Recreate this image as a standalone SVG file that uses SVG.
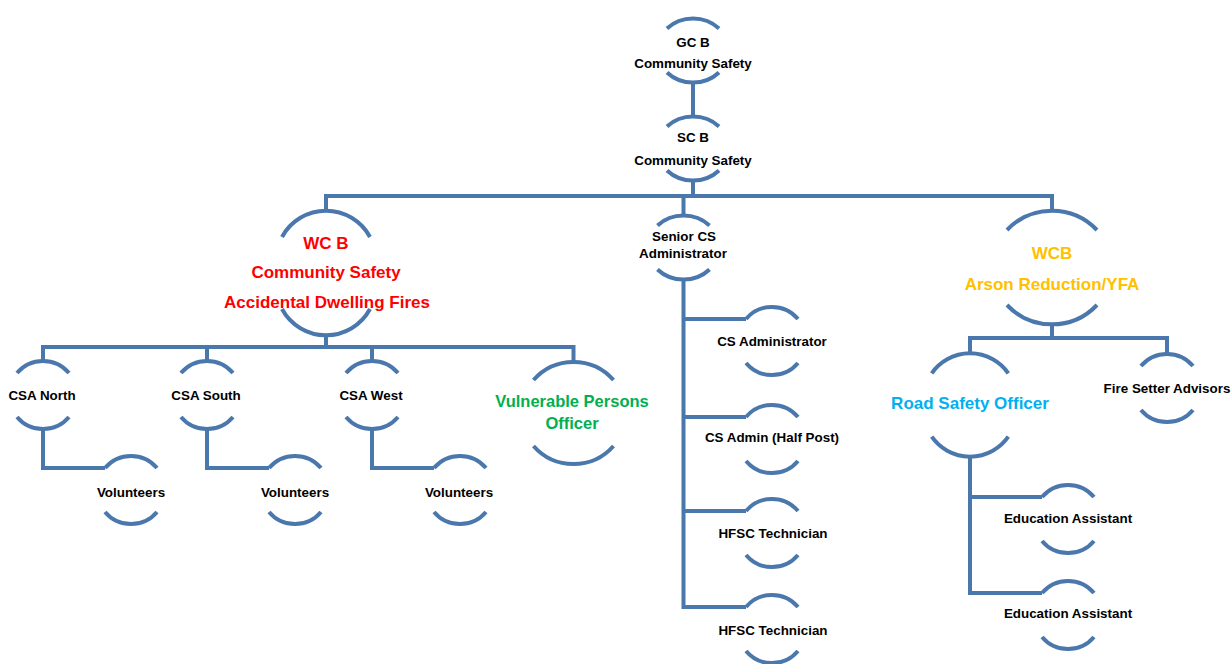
<svg xmlns="http://www.w3.org/2000/svg" width="1232" height="664" viewBox="0 0 1232 664">
<style>
.ln{fill:none;stroke:#4a77ac;stroke-width:4}
.t{font-family:"Liberation Sans",Arial,sans-serif;font-weight:bold;font-size:13.4px;fill:#000;text-anchor:middle}
.c{font-family:"Liberation Sans",Arial,sans-serif;font-weight:bold;font-size:17px;text-anchor:middle}
.red{fill:#ff0000}.grn{fill:#00b050}.amb{fill:#ffc000}.cyn{fill:#00b0f0}
</style>
<defs>
<path id="nS" d="M-26,-22 A34,34 0 0 1 26,-22 M-26,22 A34,34 0 0 0 26,22"/>
<path id="nT" d="M-26,-22 A36,32.5 0 0 1 26,-22 M-26,22 A36,32.5 0 0 0 26,22"/>
</defs>
<rect width="1232" height="664" fill="#ffffff"/>
<g id="connectors" class="ln">
<path d="M693,83 V117"/>
<path d="M693,181 V196"/>
<path d="M326,211 V196 H1052 V212"/>
<path d="M683.5,196 V215"/>
<path d="M326,336 V347"/>
<path d="M43,361 V347 H573.5 V362"/>
<path d="M207,347 V361"/>
<path d="M372,347 V361"/>
<path d="M43,429 V468 H105"/>
<path d="M207,429 V468 H269"/>
<path d="M372,429 V468 H434"/>
<path d="M683.5,280 V607 H746"/>
<path d="M683.5,319 H746"/>
<path d="M683.5,417 H746"/>
<path d="M683.5,511 H746"/>
<path d="M1052,324 V338"/>
<path d="M970,353 V338 H1167 V355"/>
<path d="M970,457 V593 H1042"/>
<path d="M970,497 H1042"/>
</g>
<g id="gcb"><use href="#nT" class="ln" transform="translate(693,50.5)"/><text class="t" x="693" y="46.7">GC B</text><text class="t" x="693" y="67.7">Community Safety</text></g>
<g id="scb"><use href="#nT" class="ln" transform="translate(693,148.5)"/><text class="t" x="693" y="141.7">SC B</text><text class="t" x="693" y="164.7">Community Safety</text></g>
<g id="wcb-cs"><path class="ln" d="M282,237 A50,50 0 0 1 370,237 M282,309 A50,50 0 0 0 370,309"/><text class="c red" x="326" y="249">WC B</text><text class="c red" x="326" y="278">Community Safety</text><text class="c red" x="327" y="308">Accidental Dwelling Fires</text></g>
<g id="senior"><use href="#nT" class="ln" transform="translate(683.5,247.5)"/><text class="t" x="684" y="241.4">Senior CS</text><text class="t" x="683" y="258">Administrator</text></g>
<g id="wcb-arson"><path class="ln" d="M1007,230 A62,62 0 0 1 1097,230 M1007,305 A62,62 0 0 0 1097,305"/><text class="c amb" x="1052" y="259.4">WCB</text><text class="c amb" x="1052" y="290.4">Arson Reduction/YFA</text></g>
<g id="csa-north"><use href="#nS" class="ln" transform="translate(43,395)"/><text class="t" x="42" y="399.7">CSA North</text></g>
<g id="csa-south"><use href="#nS" class="ln" transform="translate(207,395)"/><text class="t" x="206" y="399.7">CSA South</text></g>
<g id="csa-west"><use href="#nS" class="ln" transform="translate(372,395)"/><text class="t" x="371" y="399.7">CSA West</text></g>
<g id="vol1"><use href="#nS" class="ln" transform="translate(131,490)"/><text class="t" x="131" y="497">Volunteers</text></g>
<g id="vol2"><use href="#nS" class="ln" transform="translate(295,490)"/><text class="t" x="295" y="497">Volunteers</text></g>
<g id="vol3"><use href="#nS" class="ln" transform="translate(460,490)"/><text class="t" x="459" y="497">Volunteers</text></g>
<g id="vpo"><path class="ln" d="M533.5,380 A53.3,53.3 0 0 1 613.5,380 M533.5,446 A53.3,53.3 0 0 0 613.5,446"/><text class="c grn" x="572" y="406.7" style="font-size:16.5px">Vulnerable Persons</text><text class="c grn" x="572" y="428.7" style="font-size:16.5px">Officer</text></g>
<g id="cs-admin"><use href="#nS" class="ln" transform="translate(772,341)"/><text class="t" x="772" y="346.4">CS Administrator</text></g>
<g id="cs-admin-half"><use href="#nS" class="ln" transform="translate(772,439)"/><text class="t" x="772" y="442">CS Admin (Half Post)</text></g>
<g id="hfsc1"><use href="#nS" class="ln" transform="translate(772,533)"/><text class="t" x="773" y="538">HFSC Technician</text></g>
<g id="hfsc2"><use href="#nS" class="ln" transform="translate(772,629)"/><text class="t" x="773" y="634.7">HFSC Technician</text></g>
<g id="rso"><path class="ln" d="M931.7,373.3 A46.7,46.7 0 0 1 1008.3,373.3 M931.7,436.7 A46.7,46.7 0 0 0 1008.3,436.7"/><text class="c cyn" x="970" y="409.4">Road Safety Officer</text></g>
<g id="fsa"><use href="#nS" class="ln" transform="translate(1167,388)"/><text class="t" x="1167" y="393">Fire Setter Advisors</text></g>
<g id="edu1"><use href="#nS" class="ln" transform="translate(1068,519)"/><text class="t" x="1068" y="523">Education Assistant</text></g>
<g id="edu2"><use href="#nS" class="ln" transform="translate(1068,615)"/><text class="t" x="1068" y="618">Education Assistant</text></g>
</svg>
